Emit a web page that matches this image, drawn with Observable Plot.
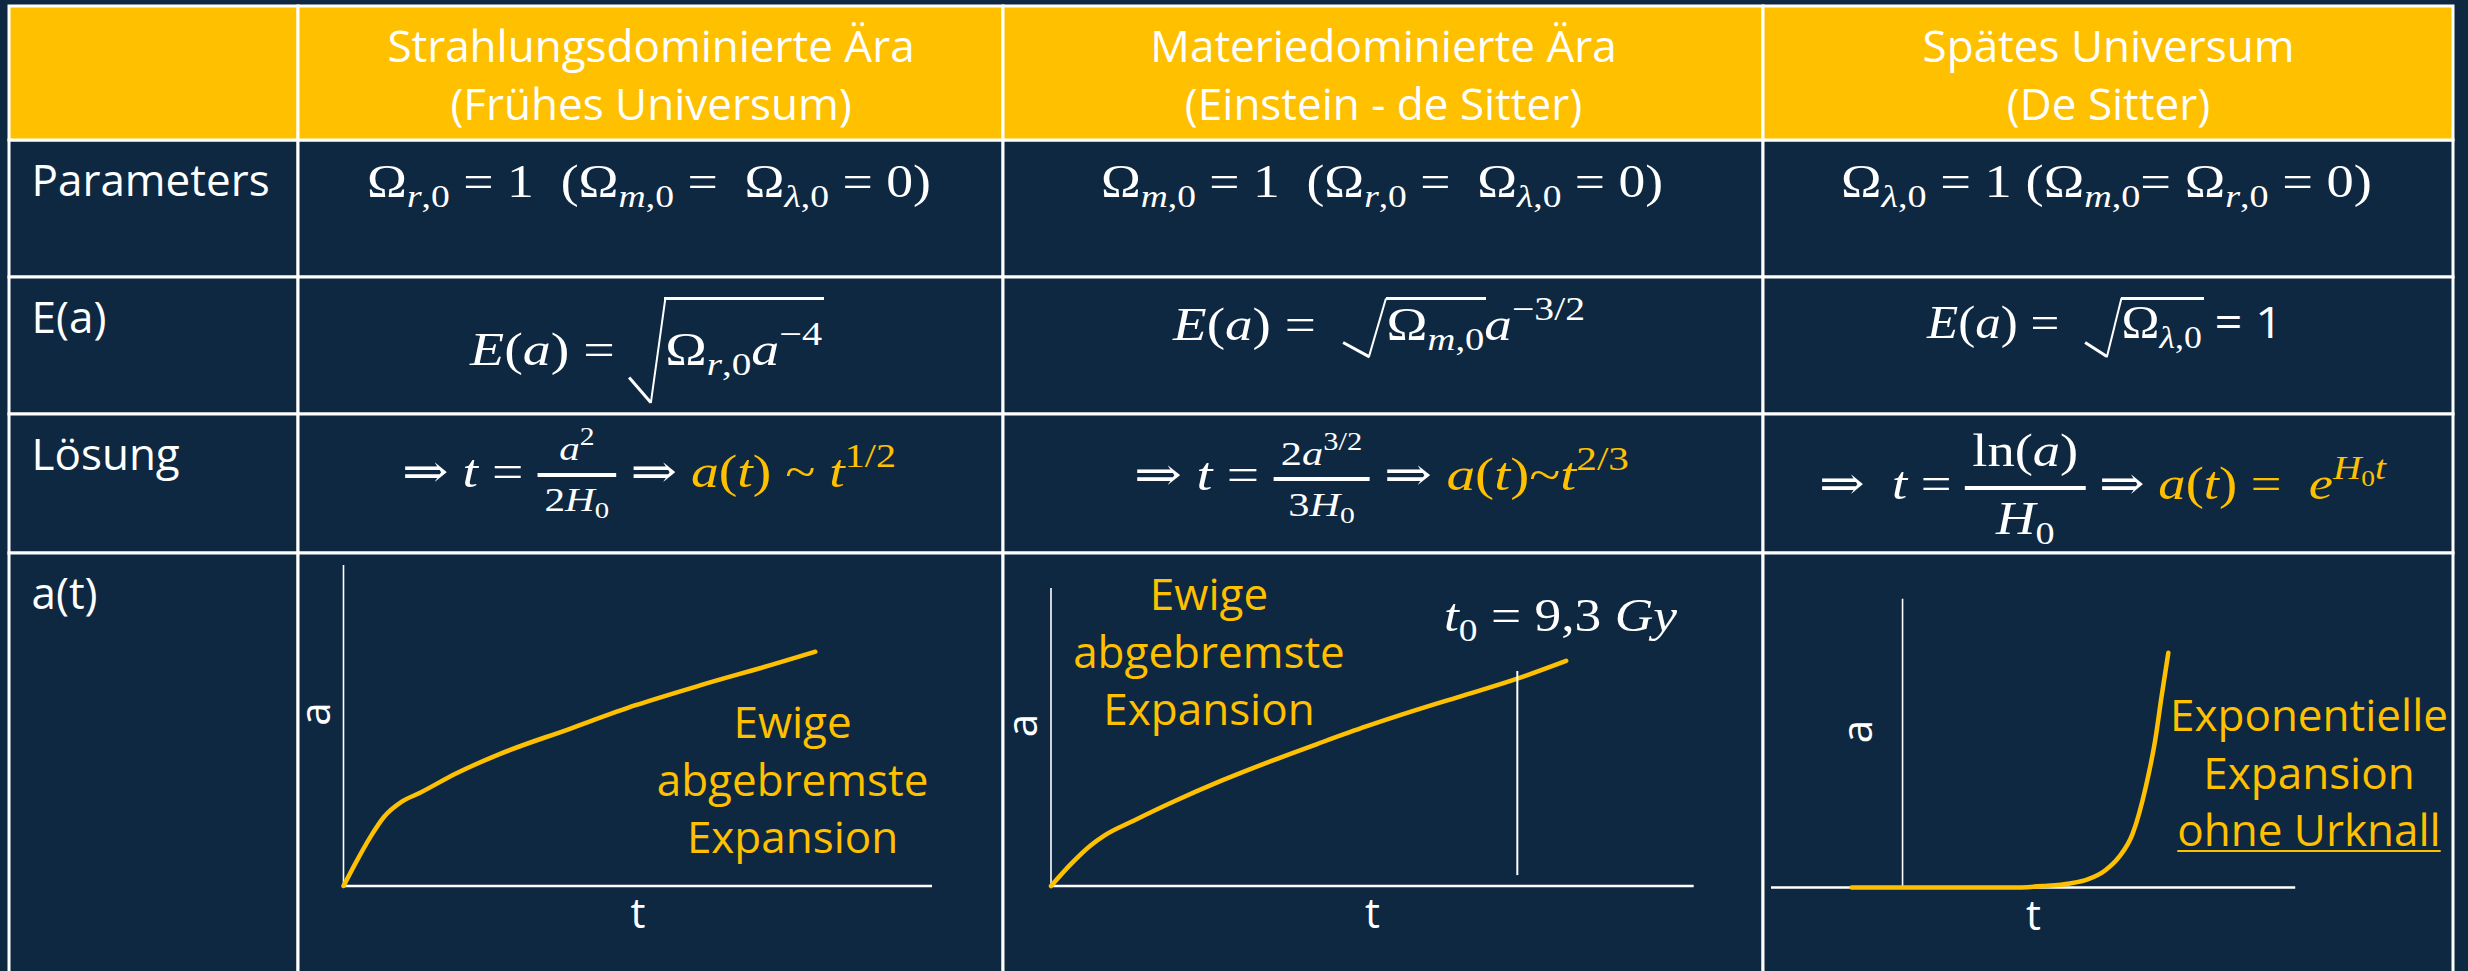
<!DOCTYPE html>
<html>
<head>
<meta charset="utf-8">
<script src="https://cdn.jsdelivr.net/npm/d3@7"></script>
<script src="https://cdn.jsdelivr.net/npm/@observablehq/plot@0.6"></script>
<style>
html,body{margin:0;padding:0;background:#0E2841;}
#root{position:relative;width:2468px;height:971px;overflow:hidden;background:#0E2841;}
.m{position:absolute;left:0;top:0;white-space:nowrap;font-family:"Liberation Serif","DejaVu Serif",serif;font-size:46px;line-height:1;color:#fff;transform-origin:0 0;}
.m i{font-style:italic;}
.y{color:#FFC000;}
.sb{font-size:0.7em;vertical-align:-0.3em;}
.sp{font-size:0.72em;vertical-align:0.6em;}
.fr{display:inline-flex;flex-direction:column;align-items:stretch;}
.fr>span{display:block;line-height:1;text-align:center;white-space:nowrap;}
.fr>.n{border-bottom:4px solid #fff;}
.sans{font-family:"Open Sans",sans-serif;font-style:normal;font-size:44px;}
.ann{position:absolute;left:0;top:0;font-family:"Open Sans",sans-serif;font-size:44px;color:#FFC000;text-align:center;line-height:57.5px;white-space:nowrap;}
.ann u{text-decoration-thickness:2px;text-underline-offset:4px;}
.probe{display:inline-block;width:0;height:0;}
.ln{position:absolute;background:#fff;transform-origin:0 50%;}
</style>
</head>
<body>
<div id="root"></div>
<script>
// ---------- data ----------
const headers = ["", "Strahlungsdominierte Ära\n(Frühes Universum)", "Materiedominierte Ära\n(Einstein - de Sitter)", "Spätes Universum\n(De Sitter)"];
const rowLabels = ["Parameters", "E(a)", "Lösung", "a(t)"];

// a(t) curves (arbitrary units, axes 0..10)
const radT = [0, 0.23, 0.46, 0.69, 0.99, 1.30, 1.91, 2.67, 3.82, 4.96, 6.11, 7.25, 8.01];
const radA = [0, 0.80, 1.54, 2.16, 2.63, 2.91, 3.51, 4.13, 4.89, 5.64, 6.29, 6.89, 7.31];
const matT = [0, 0.32, 0.62, 0.84, 1.30, 1.90, 2.65, 3.41, 4.16, 4.91, 5.67, 6.42, 7.18, 8.01];
const matA = [0, 0.76, 1.37, 1.71, 2.21, 2.83, 3.54, 4.19, 4.79, 5.37, 5.91, 6.41, 6.92, 7.57];
const lamT = [-0.97, 0.79, 2.07, 2.67, 3.19, 3.53, 3.87, 4.13, 4.39, 4.64, 4.82, 4.94, 5.07];
const lamA = [0, 0, 0, 0.05, 0.14, 0.28, 0.60, 1.06, 1.87, 3.49, 5.11, 6.61, 8.14];
const t0Marker = [{t: 7.25, from: 0.35, to: 7.21}];

const annotations = [
  ["Ewige", "abgebremste", "Expansion"],
  ["Ewige", "abgebremste", "Expansion"],
  ["Exponentielle", "Expansion", "<u>ohne Urknall</u>"]
];

// ---------- layout ----------
const YEL = "#FFC000", NAVY = "#0E2841";
const colEdges = [9, 298, 1003, 1763, 2453];
const rowEdges = [6, 140, 277, 414, 553, 985];
const root = document.getElementById("root");

const cells = [];
for (let r = 0; r < 5; r++) for (let c = 0; c < 4; c++)
  cells.push({x1: colEdges[c], x2: colEdges[c + 1], y1: rowEdges[r], y2: rowEdges[r + 1], header: r === 0});

const main = Plot.plot({
  width: 2468, height: 971, margin: 0,
  x: {type: "identity", axis: null}, y: {type: "identity", axis: null},
  style: {background: NAVY},
  marks: [
    Plot.rect(cells.filter(d => !d.header), {x1: "x1", x2: "x2", y1: "y1", y2: "y2", fill: NAVY, stroke: "white", strokeWidth: 3}),
    Plot.rect(cells.filter(d => d.header), {x1: "x1", x2: "x2", y1: "y1", y2: "y2", fill: YEL, stroke: "white", strokeWidth: 3}),
    Plot.text(headers, {x: (d, i) => (colEdges[i] + colEdges[i + 1]) / 2, y: 72, text: d => d, fill: "white",
      fontSize: 44, lineHeight: 1.31, fontFamily: "Open Sans"}),
    Plot.text(rowLabels, {x: 31, y: (d, i) => rowEdges[i + 1] + 24, text: d => d, textAnchor: "start", lineAnchor: "top",
      fill: "white", fontSize: 44, fontFamily: "Open Sans"})
  ]
});
main.style.position = "absolute"; main.style.left = "0px"; main.style.top = "0px";
root.appendChild(main);

// ---------- a(t) panels ----------
const zip = (T, A) => T.map((t, i) => ({t, a: A[i]}));
const panels = [
  {left: 298, width: 705, mL: 45, mR: 71, mT: 12, mB: 85.5, xd: [0, 10], data: zip(radT, radA), aDx: -27},
  {left: 1003, width: 760, mL: 47.5, mR: 69.3, mT: 35, mB: 85.5, xd: [0, 10], data: zip(matT, matA), aDx: -27, marker: true},
  {left: 1763, width: 690, mL: 8, mR: 157.8, mT: 45.7, mB: 84, xd: [-2.5, 7.5], data: zip(lamT, lamA), aDx: 87}
];
panels.forEach(p => {
  const marks = [
    Plot.ruleX([0], {stroke: "white", strokeWidth: 1.6}),
    Plot.ruleY([0], {stroke: "white", strokeWidth: 2.6}),
    Plot.line(p.data, {x: "t", y: "a", stroke: YEL, strokeWidth: 4.5, curve: "monotone-x", strokeLinecap: "round"}),
    Plot.text(["a"], {frameAnchor: "left", dx: p.aDx, rotate: -90, text: d => d, fill: "white", fontSize: 42, fontFamily: "Open Sans"}),
    Plot.text(["t"], {frameAnchor: "bottom", dy: 42, text: d => d, fill: "white", fontSize: 42, fontFamily: "Open Sans"})
  ];
  if (p.marker) marks.push(Plot.ruleX(t0Marker, {x: "t", y1: "from", y2: "to", stroke: "white", strokeWidth: 2}));
  const svg = Plot.plot({
    width: p.width, height: 418, marginLeft: p.mL, marginRight: p.mR, marginTop: p.mT, marginBottom: p.mB,
    x: {domain: p.xd, axis: null}, y: {domain: [0, 10], axis: null},
    style: {background: "transparent", overflow: "visible"},
    marks
  });
  svg.style.position = "absolute"; svg.style.left = p.left + "px"; svg.style.top = "553px";
  root.appendChild(svg);
});

// ---------- formulas ----------
const sb = s => `<span class="sb">${s}</span>`;
const sp = s => `<span class="sp">${s}</span>`;
const O = "Ω";
const rad = (up, down, lead, inner) => `<span class="rad" data-up="${up}" data-down="${down}" data-lead="${lead}" style="padding-left:${lead}px"><span class="probe"></span>${inner}</span>`;
const frac = (n, d, fs, va, p1, p2) => `<span class="fr" style="vertical-align:${va}px"><span class="n" style="font-size:${fs}px;padding:0 6px ${p1}px">${n}</span><span class="d" style="font-size:${fs}px;padding:${p2}px 6px 0">${d}</span></span>`;

const formulas = [
  {cx: 649, base: 197, w: 564, html: `${O}${sb("<i>r</i>,0")} = 1 &nbsp;(${O}${sb("<i>m</i>,0")} = &nbsp;${O}${sb("<i>λ</i>,0")} = 0)`},
  {cx: 1382, base: 197, w: 562, html: `${O}${sb("<i>m</i>,0")} = 1 &nbsp;(${O}${sb("<i>r</i>,0")} = &nbsp;${O}${sb("<i>λ</i>,0")} = 0)`},
  {cx: 2106.5, base: 197, w: 531, html: `${O}${sb("<i>λ</i>,0")} = 1 (${O}${sb("<i>m</i>,0")}= ${O}${sb("<i>r</i>,0")} = 0)`},
  {cx: 646, base: 365, w: 352, html: `<i>E</i>(<i>a</i>) = ${rad(67, 38, 30, `${O}${sb("<i>r</i>,0")}<i>a</i>${sp("−4")}`)}`},
  {cx: 1379, base: 340, w: 412, html: `<i>E</i>(<i>a</i>) = &nbsp;${rad(42, 17, 36, `${O}${sb("<i>m</i>,0")}`)}<i>a</i>${sp("−3/2")}`},
  {cx: 2105, base: 338, w: 356, html: `<i>E</i>(<i>a</i>) = &nbsp;${rad(40, 19, 33, `${O}${sb("<i>λ</i>,0")}`)}<span class="sans"> = 1</span>`},
  {cx: 649, base: 487, w: 494, html: `⇒ <i>t</i> = ${frac(`<i>a</i>${sp("2")}`, `2<i>H</i>${sb("0")}`, 34, 27, 7, 6)} ⇒ <span class="y"><i>a</i>(<i>t</i>) ~ <i>t</i>${sp("1/2")}</span>`},
  {cx: 1381.5, base: 490, w: 495, html: `⇒ <i>t</i> = ${frac(`2<i>a</i>${sp("3/2")}`, `3<i>H</i>${sb("0")}`, 34, 25, 6, 7)} ⇒ <span class="y"><i>a</i>(<i>t</i>)~<i>t</i>${sp("2/3")}</span>`},
  {cx: 2102.5, base: 499, w: 567, html: `⇒ &nbsp;<i>t</i> = ${frac(`ln(<i>a</i>)`, `<i>H</i>${sb("0")}`, 46, 33, 12, 6)} ⇒ <span class="y"><i>a</i>(<i>t</i>) = &nbsp;<i>e</i>${sp(`<i>H</i>${sb("0")}<i>t</i>`)}</span>`},
  {cx: 1560.5, base: 631, w: 233, html: `<i>t</i>${sb("0")} = 9,3 <i>Gy</i>`}
];

const annSpecs = [
  {cx: 792.6, base: 738, lines: annotations[0]},
  {cx: 1209, base: 610, lines: annotations[1]},
  {cx: 2309, base: 731, lines: annotations[2]}
];

function place(el, cx, base, w) {
  root.appendChild(el);
  const r = el.getBoundingClientRect();
  const p = el.querySelector(".probe").getBoundingClientRect();
  const baseOff = p.top - r.top;
  const s = w ? w / r.width : 1;
  el.style.left = (cx - r.width * s / 2) + "px";
  el.style.top = (base - baseOff) + "px";
  if (s !== 1) el.style.transform = `scaleX(${s})`;
  return s;
}
function line(x1, y1, x2, y2, th) {
  const d = document.createElement("div");
  d.className = "ln";
  const len = Math.hypot(x2 - x1, y2 - y1);
  d.style.left = x1 + "px"; d.style.top = (y1 - th / 2) + "px";
  d.style.width = len + "px"; d.style.height = th + "px";
  d.style.transform = `rotate(${Math.atan2(y2 - y1, x2 - x1)}rad)`;
  root.appendChild(d);
}

formulas.forEach(f => {
  const el = document.createElement("div");
  el.className = "m";
  el.innerHTML = `<span class="probe"></span>${f.html}`;
  const s = place(el, f.cx, f.base, f.w);
  const rr = root.getBoundingClientRect();
  el.querySelectorAll(".rad").forEach(rd => {
    const r = rd.getBoundingClientRect();
    const b = rd.querySelector(".probe").getBoundingClientRect().top - rr.top;
    const up = +rd.dataset.up, down = +rd.dataset.down;
    const x0 = r.left - rr.left;
    const lead = +rd.dataset.lead * s;
    const top = b - up, bot = b + down;
    const p1 = [x0, top + 0.76 * (up + down)], p2 = [x0 + 0.6 * lead, bot], p3 = [x0 + lead, top];
    line(p1[0], p1[1], p2[0], p2[1], 3.4);
    line(p2[0], p2[1], p3[0], p3[1], 2.4);
    line(p3[0] - 1, top, r.right - rr.left + 2, top, 3);
  });
});

annSpecs.forEach(a => {
  const el = document.createElement("div");
  el.className = "ann";
  el.innerHTML = `<span class="probe"></span>` + a.lines.join("<br>");
  place(el, a.cx, a.base, 0);
});
</script>
</body>
</html>
